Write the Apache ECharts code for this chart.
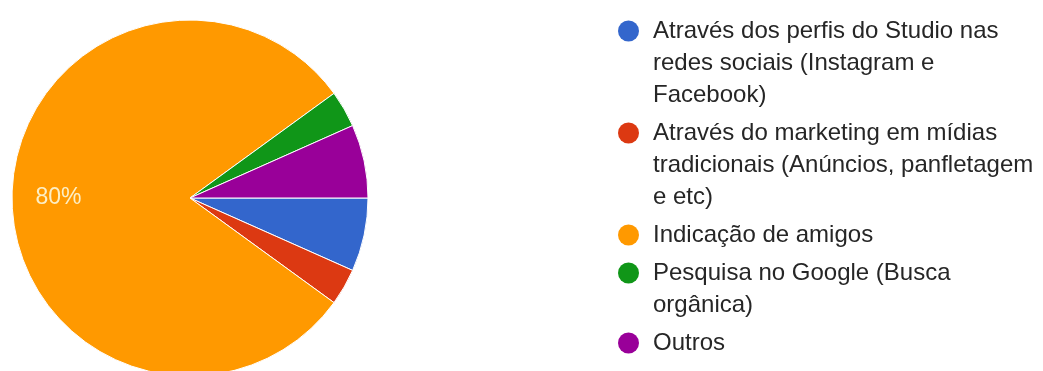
<!DOCTYPE html>
<html>
<head>
<meta charset="utf-8">
<script src="https://cdn.jsdelivr.net/npm/echarts@6/dist/echarts.min.js"></script>
<style>
  html, body { margin: 0; padding: 0; background: #ffffff; }
  #chart { width: 1043px; height: 371px; }
</style>
</head>
<body>
<div id="chart"></div>
<script>
// Answers: how people found the studio
const categories = [
  'Através dos perfis do Studio nas\nredes sociais (Instagram e\nFacebook)',
  'Através do marketing em mídias\ntradicionais (Anúncios, panfletagem\ne etc)',
  'Indicação de amigos',
  'Pesquisa no Google (Busca\norgânica)',
  'Outros'
];
const responses = [2, 1, 24, 1, 2];
const colors = ['#3366cc', '#dc3912', '#ff9900', '#109618', '#990099'];

const PIE_CENTER = [190, 198];
const PIE_RADIUS = 178;
const LABEL_RADIUS_RATIO = 0.715;
const FONT = '"Liberation Sans", Arial, sans-serif';

const chart = echarts.init(document.getElementById('chart'), null, { renderer: 'canvas' });

// rich-text styles: one coloured dot per category plus the text runs
const rich = {
  t: { fontSize: 24, fontFamily: FONT, color: '#262626', lineHeight: 32 },
  sp: { width: 35, lineHeight: 32 },
  sp2: { width: 14, lineHeight: 32 }
};
colors.forEach(function (c, i) {
  rich['d' + i] = { width: 21, height: 21, borderRadius: 10.5, backgroundColor: c, lineHeight: 32 };
});

const option = {
  backgroundColor: '#ffffff',
  animation: false,
  color: colors,
  legend: {
    orient: 'vertical',
    left: 612,
    top: 15,
    padding: 0,
    itemGap: 6,
    itemWidth: 0,
    itemHeight: 0,
    icon: 'circle',
    data: categories,
    formatter: function (name) {
      const idx = categories.indexOf(name);
      const lines = name.split('\n');
      return lines.map(function (line, k) {
        return (k === 0 ? '{d' + idx + '|}{sp2|}' : '{sp|}') + '{t|' + line + '}';
      }).join('\n');
    },
    textStyle: {
      fontSize: 24,
      fontFamily: FONT,
      color: '#262626',
      lineHeight: 32,
      rich: rich
    }
  },
  series: [{
    type: 'pie',
    center: PIE_CENTER,
    radius: PIE_RADIUS,
    startAngle: 0,
    clockwise: true,
    percentPrecision: 0,
    minShowLabelAngle: 30,
    avoidLabelOverlap: false,
    emphasis: { disabled: true },
    itemStyle: { borderColor: '#ffffff', borderWidth: 1 },
    label: {
      show: true,
      position: 'inside',
      formatter: '{d}%',
      fontSize: 23,
      fontFamily: FONT,
      color: '#fcefc6'
    },
    labelLine: { show: false },
    labelLayout: function (p) {
      // push the inside label further out along its radius
      const r = p.labelRect;
      const cx = r.x + r.width / 2;
      const cy = r.y + r.height / 2;
      const k = LABEL_RADIUS_RATIO / 0.5 - 1;
      return { dx: (cx - PIE_CENTER[0]) * k, dy: (cy - PIE_CENTER[1]) * k };
    },
    data: categories.map(function (name, i) {
      return { name: name, value: responses[i] };
    })
  }]
};

chart.setOption(option);
</script>
</body>
</html>
